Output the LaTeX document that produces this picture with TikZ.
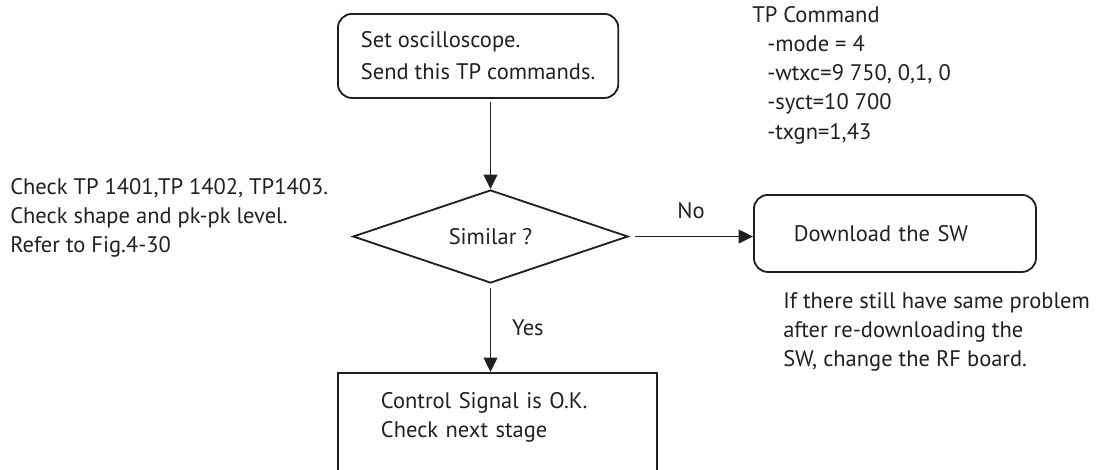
\documentclass[tikz,border=0pt]{standalone}
\usepackage{fontspec}
\setmainfont{PT Sans}
\usetikzlibrary{arrows.meta, shapes.geometric}
\definecolor{ink}{HTML}{231F20}

\begin{document}
\begin{tikzpicture}[
  x=0.025cm, y=-0.025cm,
  every node/.style={font=\fontsize{16}{20.5}\selectfont, text=ink},
  stepbox/.style={draw=ink, line width=1.3pt, rounded corners=0.35cm, align=left},
  decision/.style={draw=ink, diamond, line width=1.3pt, aspect=2.96,
                   minimum width=6.875cm, minimum height=2.325cm, inner sep=0pt},
  flow/.style={draw=ink, line width=1.3pt, -{Triangle[length=3.6mm, width=3.4mm]}},
  note/.style={align=left, inner sep=0pt, anchor=west},
]
\useasboundingbox (0,0) rectangle (1109,469);
\clip (0,0) rectangle (1109,469);

\node[stepbox, anchor=north west, minimum height=2.1cm, inner xsep=0.575cm,
      font=\fontsize{16}{22.8}\selectfont] (scope) at (337,13)
  {Set oscilloscope.\\Send this TP commands.};
\node[decision] (sim) at (490.5,236.5) {Similar ?};
\node[stepbox, anchor=north west, minimum height=1.925cm, text width=5.05cm,
      inner xsep=1cm] (dl) at (753,194) {Download the SW};
\node[stepbox, rounded corners=0pt, anchor=north west, text width=5.825cm,
      inner xsep=1.075cm, inner ysep=0.5cm, text depth=3cm] (ok) at (337,372)
  {Control Signal is O.K.\\Check next stage};

\node[note] (check) at (10,218)
  {Check TP 1401,TP 1402, TP1403.\\Check shape and pk-pk level.\\Refer to Fig.4-30};
\node[note, font=\fontsize{16}{20.8}\selectfont] (cmd) at (752,75)
  {TP Command\\
   \hspace*{0.375cm}-mode = 4\\
   \hspace*{0.375cm}-wtxc=9 750, 0,1, 0\\
   \hspace*{0.375cm}-syct=10 700\\
   \hspace*{0.375cm}-txgn=1,43};
\node[note] (hint) at (783,332)
  {If there still have same problem\\after re-downloading the\\SW, change the RF board.};

\draw[flow, shorten <=2pt] (sim.north |- scope.south) -- (sim.north);
\draw[flow, shorten <=4pt] (sim.east) -- node[above=0.3cm] (no) {No} (sim.east -| dl.west);
\draw[flow, shorten <=3pt] (sim.south) -- node[right=0.4cm] (yes) {Yes} (sim.south |- ok.north);

\end{tikzpicture}
\end{document}
